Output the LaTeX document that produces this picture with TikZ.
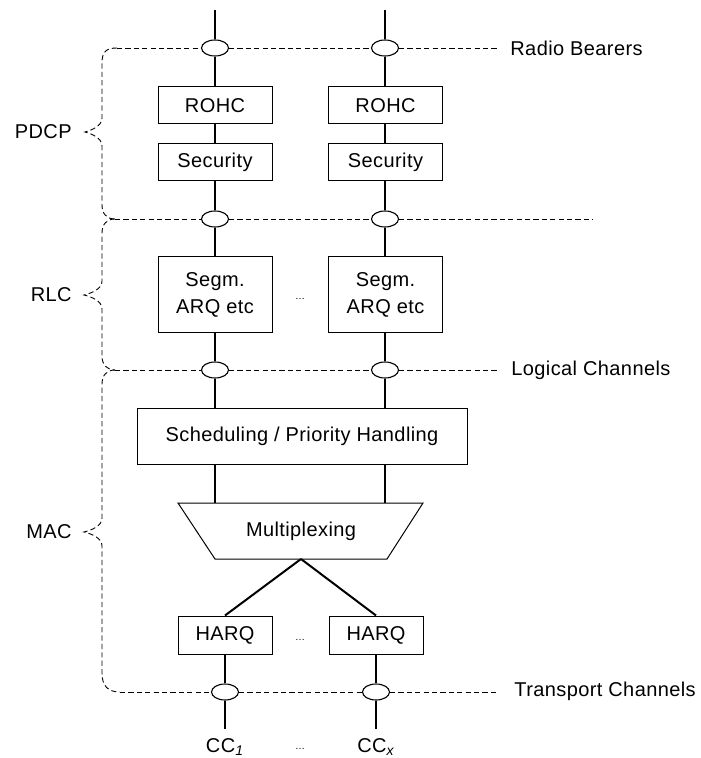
\documentclass[tikz,border=0pt]{standalone}
\usepackage{fontspec}
\setmainfont{Liberation Sans}[LetterSpace=2]
\usetikzlibrary{shapes.geometric}
\begin{document}
\begin{tikzpicture}[x=0.5pt,y=-0.5pt,
  box/.style={draw, line width=0.5pt, fill=white, inner sep=0pt, align=center,
    font=\fontsize{10}{13.5}\selectfont},
  smallbox/.style={box, minimum width=57pt, minimum height=18.5pt},
  bearer/.style={draw, ellipse, line width=0.55pt, fill=white, minimum width=13.5pt,
    minimum height=8pt, inner sep=0pt},
  link/.style={line width=1pt},
  dashline/.style={line width=0.45pt, dash pattern=on 2.6pt off 1.6pt},
  lbl/.style={font=\fontsize{10}{12}\selectfont, inner sep=0pt},
  dots/.style={font=\tiny, inner sep=0pt}]
\useasboundingbox (0,0) rectangle (700,758);

% columns
\coordinate (topL) at (215,10);
\coordinate (topR) at (385,10);
\node[bearer] (rbL) at (215,48) {};
\node[bearer] (rbR) at (385,48) {};
\node[smallbox] (rohcL) at (215,105.5) {ROHC};
\node[smallbox] (rohcR) at (385.5,105.5) {ROHC};
\node[smallbox] (secL) at (215,162) {Security};
\node[smallbox] (secR) at (385.5,162) {Security};
\node[bearer] (pdL) at (215,219) {};
\node[bearer] (pdR) at (385,219) {};
\node[box, minimum width=57pt, minimum height=38pt] (segL) at (215,295) {Segm.\\ARQ etc};
\node[box, minimum width=57pt, minimum height=38pt] (segR) at (385.5,295) {Segm.\\ARQ etc};
\node[dots] (segdots) at (300,299) {\ldots};
\node[bearer] (lcL) at (215,370) {};
\node[bearer] (lcR) at (385,370) {};
\node[box, minimum width=165pt, minimum height=28pt] (sched) at (302,436) {Scheduling / Priority Handling};
\draw[line width=0.5pt] (178,503) -- (423,503) -- (387,559) -- (215,559) -- cycle;
\node[lbl] (mux) at (301,531) {Multiplexing};
\coordinate (muxtL) at (215,503);
\coordinate (muxtR) at (385,503);
\coordinate (muxb) at (301,559);
\node[box, minimum width=47pt, minimum height=19pt] (harqL) at (225,635) {HARQ};
\node[box, minimum width=47pt, minimum height=19pt] (harqR) at (376,635) {HARQ};
\node[dots] (harqdots) at (300,640) {\ldots};
\node[bearer] (tcL) at (225,692) {};
\node[bearer] (tcR) at (376,692) {};
\coordinate (botL) at (225,729);
\coordinate (botR) at (376,729);
\node[lbl] (ccL) at (225,747) {CC\textsubscript{\itshape 1}};
\node[lbl] (ccR) at (376,747) {CC\textsubscript{\itshape x}};
\node[dots] (ccdots) at (300,749) {\ldots};

% solid links
\draw[link] (topL) -- (rbL) -- (rohcL) -- (secL) -- (pdL) -- (segL) -- (lcL) -- (lcL |- sched.north);
\draw[link] (topR) -- (rbR) -- (rohcR.north -| rbR) (rohcR.south -| rbR) -- (secR.north -| rbR)
  (secR.south -| rbR) -- (pdR) -- (segR.north -| pdR) (segR.south -| pdR) -- (lcR) -- (lcR |- sched.north);
\draw[link] (sched.south -| muxtL) -- (muxtL);
\draw[link] (sched.south -| muxtR) -- (muxtR);
\draw[link] (muxb) -- (harqL.north);
\draw[link] (muxb) -- (harqR.north);
\draw[link] (harqL) -- (tcL) -- (botL);
\draw[link] (harqR) -- (tcR) -- (botR);

% dashed channel lines
\coordinate (rbS) at (117,48);   \coordinate (rbE) at (498,48);
\coordinate (pdS) at (115,219);  \coordinate (pdE) at (593,219);
\coordinate (lcS) at (115,370);  \coordinate (lcE) at (498,370);
\coordinate (tcS) at (120,692);  \coordinate (tcE) at (498,692);
\draw[dashline] (rbS) -- (rbL) -- (rbR) -- (rbE);
\draw[dashline] (pdS) -- (pdL) -- (pdR) -- (pdE);
\draw[dashline] (lcS) -- (lcL) -- (lcR) -- (lcE);
\draw[dashline] (tcS) -- (tcL) -- (tcR) -- (tcE);

% braces
\draw[dashline] (rbS) .. controls (106,48) and (102,52) .. (102,63) -- (102,118)
  .. controls (102,126) and (92,130) .. (85,132) .. controls (92,134) and (102,138) .. (102,146)
  -- (102,205) .. controls (102,214) and (107,219) .. (pdS);
\draw[dashline] (pdS) .. controls (107,219) and (102,224) .. (102,233) -- (102,281)
  .. controls (102,289) and (92,293) .. (84,295) .. controls (92,297) and (102,301) .. (102,309)
  -- (102,356) .. controls (102,365) and (107,370) .. (lcS);
\draw[dashline] (lcS) .. controls (107,370) and (102,375) .. (102,384) -- (102,518)
  .. controls (102,526) and (92,530) .. (84,532) .. controls (92,534) and (102,538) .. (102,546)
  -- (102,673) .. controls (102,686) and (108,692) .. (tcS);

% labels
\node[lbl, anchor=west] (rbT) at (510,48) {Radio Bearers};
\node[lbl, anchor=west] (lcT) at (511,370) {Logical Channels};
\node[lbl, anchor=west] (tcT) at (514,691) {Transport Channels};
\node[lbl, anchor=east] (pdcpT) at (72,132) {PDCP};
\node[lbl, anchor=east] (rlcT) at (72,295) {RLC};
\node[lbl, anchor=east] (macT) at (72,532) {MAC};
\end{tikzpicture}
\end{document}
